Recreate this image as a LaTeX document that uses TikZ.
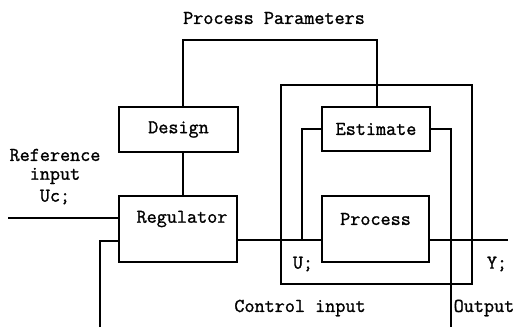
\documentclass[tikz,border=0pt]{standalone}
\usepackage{fontspec}
\newfontfamily\dfont{Latin Modern Mono}[FakeBold=1.2]
\begin{document}
\begin{tikzpicture}[x=1pt,y=-1pt,
  every path/.style={line width=1.1pt},
  txt/.style={font=\dfont\fontsize{19.6}{22}\selectfont, inner sep=0pt, anchor=center},
  blk/.style={draw, line width=1.1pt, inner sep=0pt, font=\dfont\fontsize{19.6}{22}\selectfont}]
\useasboundingbox (0,0) rectangle (519,327);
% outer loop rectangle
\node[draw, line width=1.1pt, minimum width=191pt, minimum height=199pt, inner sep=0pt] (loop) at (376.5,184.5) {};
% blocks
\node[blk, minimum width=119pt, minimum height=45pt] (design) at (178.5,129.5) {Design};
\node[blk, minimum width=118pt, minimum height=66pt] (reg) at (178,229) {};
\node[blk, minimum width=108pt, minimum height=44pt] (est) at (376,129) {Estimate};
\node[blk, minimum width=107pt, minimum height=66pt] (proc) at (375.5,229) {};
\node[txt] (regt) at (182,219) {Regulator};
\node[txt] (proct) at (375.5,219) {Process};
% labels
\node[txt] (pp) at (274,18) {Process Parameters};
\node[txt] (r1) at (55,155) {Reference};
\node[txt] (r2) at (55,176) {input};
\node[txt] (r3) at (55,197) {Uc;};
\node[txt] (ul) at (303,264) {U;};
\node[txt] (yl) at (497,264) {Y;};
\node[txt] (cl) at (300,308) {Control input};
\node[txt] (ol) at (484,308) {Output};
% coordinates
\coordinate (refin) at (8,218);
\coordinate (fb) at (100,327);
\coordinate (u) at (302,240);
\coordinate (yout) at (508,240);
\coordinate (outd) at (451,327);
\coordinate (ptop) at (300,40);
% connectors
\draw ([xshift=4.5pt]design.north) |- (ptop) -| ([xshift=1pt]est.north);
\draw ([xshift=4.5pt]design.south) -- ([xshift=5pt]reg.north);
\draw (refin) -- (refin -| reg.west);
\draw (fb) |- ([yshift=-12pt]reg.west);
\draw ([yshift=-11pt]reg.east) -- ([yshift=-11pt]proc.west);
\draw (u) |- (est.west);
\draw ([yshift=-11pt]proc.east) -- (yout);
\draw (est.east) -| (outd);
\end{tikzpicture}
\end{document}
